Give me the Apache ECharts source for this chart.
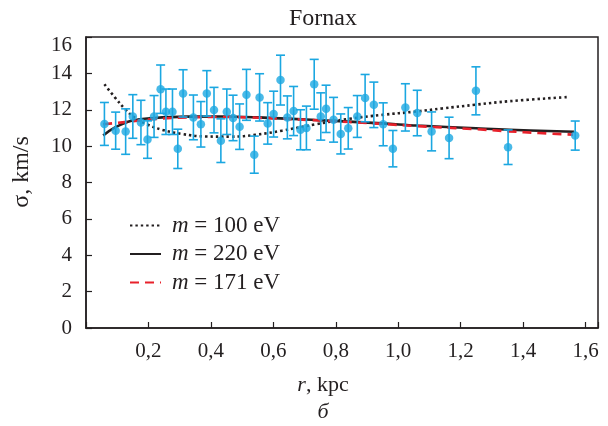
<!DOCTYPE html>
<html>
<head>
<meta charset="utf-8">
<script src="https://cdn.jsdelivr.net/npm/echarts@6/dist/echarts.min.js"></script>
<style>html,body{margin:0;padding:0;background:#fff}#c{width:608px;height:426px}</style>
</head>
<body>
<div id="c"></div>
<script>
// Observed data: radius (kpc), dispersion (km/s), error (km/s)
const rData = [0.059,0.095,0.127,0.150,0.176,0.197,0.218,0.239,0.256,0.277,0.294,0.311,0.344,0.368,0.387,0.410,0.432,0.451,0.471,0.492,0.514,0.539,0.556,0.582,0.601,0.623,0.645,0.665,0.687,0.706,0.731,0.752,0.769,0.793,0.816,0.840,0.869,0.894,0.922,0.952,0.983,1.023,1.061,1.107,1.163,1.249,1.352,1.567];
const sigmaData = [11.22,10.85,10.80,11.63,11.30,10.36,11.63,13.13,11.89,11.89,9.85,12.90,11.58,11.20,12.90,11.98,10.30,11.89,11.55,11.07,12.82,9.53,12.68,11.25,11.76,13.63,11.58,11.93,10.90,11.00,13.40,11.63,12.05,11.45,10.67,10.98,11.63,12.64,12.27,11.20,9.86,12.13,11.82,10.81,10.45,13.04,9.94,10.58];
const errData = [1.18,1.02,1.25,1.20,1.22,1.03,1.15,1.33,1.25,1.25,1.08,1.30,1.23,1.25,1.25,1.25,1.20,1.25,1.25,1.25,1.40,1.02,1.30,1.14,1.26,1.37,1.18,1.35,1.10,1.20,1.37,1.30,1.30,1.23,1.10,1.14,1.15,1.30,1.25,1.18,1.00,1.30,1.25,1.07,1.14,1.32,0.95,0.80];

// Model curves [r, sigma]
const curve100 = [[0.059,13.4],[0.093,12.67],[0.125,12.04],[0.157,11.55],[0.195,11.2],[0.243,10.9],[0.307,10.67],[0.382,10.53],[0.467,10.52],[0.542,10.62],[0.628,10.85],[0.735,11.2],[0.842,11.5],[0.949,11.72],[1.056,11.9],[1.14,12.07],[1.249,12.28],[1.356,12.47],[1.543,12.7]];
const curve220 = [[0.055,10.58],[0.093,11.03],[0.146,11.4],[0.22,11.55],[0.328,11.62],[0.435,11.63],[0.553,11.58],[0.735,11.44],[0.949,11.25],[1.061,11.13],[1.249,10.98],[1.356,10.9],[1.564,10.79]];
const curve171 = [[0.055,11.2],[0.146,11.36],[0.22,11.49],[0.328,11.58],[0.435,11.6],[0.553,11.56],[0.735,11.42],[0.949,11.22],[1.061,11.1],[1.249,10.93],[1.356,10.81],[1.45,10.72],[1.56,10.63]];

const seriesNames = ['m = 100 eV','m = 220 eV','m = 171 eV'];
const xTicks = [0.2,0.4,0.6,0.8,1.0,1.2,1.4,1.6];
const yTicks = [0,2,4,6,8,10,12,14,16];

const FONT = '"Liberation Serif","Times New Roman",serif';
const TXT = '#231f20';
const BLUE = '#1ba7e1';

const points = rData.map((r,i)=>[r, sigmaData[i], errData[i]]);

const chart = echarts.init(document.getElementById('c'), null, {renderer:'canvas'});
chart.setOption({
  animation:false,
  backgroundColor:'#fff',
  title:{text:'Fornax', left:318, top:2, textAlign:'center',
    textStyle:{fontFamily:FONT, fontSize:24, fontWeight:'normal', color:TXT}},
  grid:{left:86, right:10, top:37, bottom:98, show:true, borderColor:TXT, borderWidth:1.5, backgroundColor:'transparent'},
  legend:{
    orient:'vertical', left:124, top:209, itemWidth:31, itemHeight:14, itemGap:5.5,
    data:seriesNames,
    itemStyle:{opacity:0},
    textStyle:{fontFamily:FONT, fontSize:23, color:TXT, lineHeight:22, padding:[0,0,0,6],
      rich:{i:{fontFamily:FONT, fontSize:23, fontStyle:'italic', color:TXT}}},
    formatter:function(n){return '{i|m}' + n.slice(1);}
  },
  xAxis:{
    type:'value', min:0, max:1.64, interval:0.2,
    axisLine:{show:true, lineStyle:{color:TXT, width:1.5}},
    axisTick:{show:true, inside:true, length:6, lineStyle:{color:TXT, width:1.2}},
    splitLine:{show:false},
    axisLabel:{margin:13, fontFamily:FONT, fontSize:21, color:TXT,
      formatter:function(v){
        for(const t of xTicks){ if(Math.abs(v-t)<1e-6) return t.toFixed(1).replace('.',','); }
        return '';
      }}
  },
  yAxis:{
    type:'value', min:0, max:16, interval:2,
    axisLine:{show:true, lineStyle:{color:TXT, width:1.5}},
    axisTick:{show:true, inside:true, length:6, lineStyle:{color:TXT, width:1.2}},
    splitLine:{show:false},
    axisLabel:{margin:14, fontFamily:FONT, fontSize:21, color:TXT,
      formatter:function(v){
        if(yTicks.indexOf(v)<0) return '';
        return v===16 ? '{t|16}' : String(v);
      },
      rich:{t:{fontFamily:FONT, fontSize:21, color:TXT, padding:[16,0,0,0]}}}
  },
  graphic:[
    {type:'text', x:22, y:172, rotation:Math.PI/2,
      style:{text:'σ, km/s', fontFamily:FONT, fontSize:24, fill:TXT, textAlign:'center', textVerticalAlign:'middle'}},
    {type:'text', x:323, y:385,
      style:{text:'{i|r}, kpc', fontFamily:FONT, fontSize:22, fill:TXT, textAlign:'center', textVerticalAlign:'middle',
        rich:{i:{fontFamily:FONT, fontSize:22, fontStyle:'italic', fill:TXT}}}},
    {type:'text', x:323, y:412,
      style:{text:'б', fontFamily:FONT, fontSize:22, fontStyle:'italic', fill:TXT, textAlign:'center', textVerticalAlign:'middle'}}
  ],
  series:[
    {name:seriesNames[0], type:'line', data:curve100, smooth:0.4, symbol:'none', z:2,
      lineStyle:{color:'#231f20', width:2.6, type:[2.4,3]}, itemStyle:{color:'#231f20'}},
    {name:seriesNames[1], type:'line', data:curve220, smooth:0.4, symbol:'none', z:3,
      lineStyle:{color:'#231f20', width:2.6}, itemStyle:{color:'#231f20'}},
    {name:seriesNames[2], type:'line', data:curve171, smooth:0.4, symbol:'none', z:4,
      lineStyle:{color:'#e8212b', width:2.6, type:[9,6]}, itemStyle:{color:'#e8212b'}},
    {type:'custom', z:5, data:points,
      renderItem:function(params, api){
        const x=api.value(0), y=api.value(1), e=api.value(2);
        const top=api.coord([x,y+e]), bot=api.coord([x,y-e]);
        const hw=4.5;
        const st={stroke:BLUE, lineWidth:1.6};
        return {type:'group', children:[
          {type:'line', shape:{x1:top[0],y1:top[1],x2:bot[0],y2:bot[1]}, style:st},
          {type:'line', shape:{x1:top[0]-hw,y1:top[1],x2:top[0]+hw,y2:top[1]}, style:st},
          {type:'line', shape:{x1:bot[0]-hw,y1:bot[1],x2:bot[0]+hw,y2:bot[1]}, style:st}
        ]};
      }},
    {type:'scatter', z:6, data:points.map(p=>[p[0],p[1]]), symbol:'circle', symbolSize:8.5,
      itemStyle:{color:BLUE}}
  ]
});
</script>
</body>
</html>
